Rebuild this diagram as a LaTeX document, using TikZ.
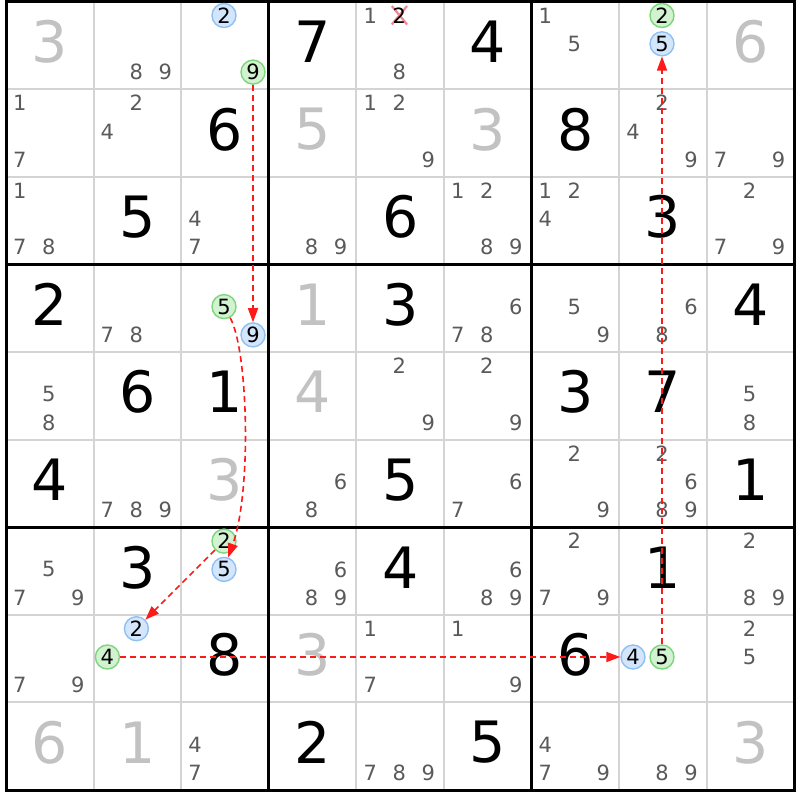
\documentclass[tikz,border=0pt]{standalone}
\usepackage{fontspec}
\setmainfont{DejaVu Sans}
\usetikzlibrary{arrows.meta}
\pgfdeclarelayer{bg}
\pgfdeclarelayer{mid}
\pgfsetlayers{bg,mid,main}
\definecolor{candgray}{HTML}{5A5A5A}
\definecolor{givengray}{HTML}{C2C2C2}
\definecolor{thingray}{HTML}{D4D4D4}
\definecolor{bluefill}{HTML}{D4E6FC}
\definecolor{blueline}{HTML}{8EC0F4}
\definecolor{greenfill}{HTML}{D2F2D2}
\definecolor{greenline}{HTML}{7CD67C}
\definecolor{linkred}{HTML}{FF1A1A}
\definecolor{xpink}{HTML}{F08894}
\tikzset{
  bigdigit/.style={inner sep=0pt, font=\fontsize{57}{57}\selectfont},
  cand/.style={inner sep=0pt, text=candgray, font=\fontsize{21}{21}\selectfont},
  bluec/.style={circle, inner sep=0pt, minimum size=24pt, draw=blueline, fill=bluefill, line width=1.4pt, text=black, font=\fontsize{21}{21}\selectfont},
  greenc/.style={circle, inner sep=0pt, minimum size=24pt, draw=greenline, fill=greenfill, line width=1.4pt, text=black, font=\fontsize{21}{21}\selectfont},
  elim/.style={inner sep=0pt, text=black, font=\fontsize{21}{21}\selectfont},
  link/.style={draw=linkred, line width=1.6pt, dash pattern=on 6pt off 4pt, -{Triangle[length=14pt,width=10pt]}},
  thinline/.style={draw=thingray, line width=2pt},
  thickline/.style={draw=black, line width=3pt}
}
% big digit: row, col, digit, colour
\newcommand\bigd[4]{\node[bigdigit, text=#4] (d#1#2) at ({6+(#2-0.5)*87.6},{1.5+(#1-0.5)*87.6-3.5}) {#3};}
% candidates: row, col, list
\newcommand\cands[3]{\foreach \k in {#3}{%
  \pgfmathtruncatemacro\kr{(\k-1)/3}\pgfmathtruncatemacro\kc{\k-1-3*\kr}%
  \node[cand] (c#1#2\k) at ({6+(#2-0.5)*87.6+(\kc-1)*29-1},{1.5+(#1-0.5)*87.6+(\kr-1)*28.3-1.5}) {\k};}}
% special candidate: row, col, digit, style
\newcommand\scand[4]{%
  \pgfmathtruncatemacro\kr{(#3-1)/3}\pgfmathtruncatemacro\kc{#3-1-3*\kr}%
  \node[#4] (c#1#2#3) at ({6+(#2-0.5)*87.6+(\kc-1)*29-1},{1.5+(#1-0.5)*87.6+(\kr-1)*28.3-1.5}) {#3};}
\begin{document}
\begin{tikzpicture}[x=1pt, y=-1pt]
\useasboundingbox (0,0) rectangle (800,800);
\begin{pgfonlayer}{bg}
\fill[white] (0,0) rectangle (800,800);
\end{pgfonlayer}
% grid
\foreach \i in {1,2,4,5,7,8}{
  \draw[thinline] ({6+\i*87.6},1.5) -- ({6+\i*87.6},790.2);
  \draw[thinline] (6,{1.5+\i*87.6}) -- (794.4,{1.5+\i*87.6});
}
\foreach \i in {3,6}{
  \draw[thickline] ({6+\i*87.6},1.5) -- ({6+\i*87.6},790.2);
  \draw[thickline] (6,{1.5+\i*87.6}) -- (794.4,{1.5+\i*87.6});
}
\draw[thickline] (6,1.5) rectangle (794.4,790.2);
% big digits
\bigd{1}{1}{3}{givengray}\bigd{1}{4}{7}{black}\bigd{1}{6}{4}{black}\bigd{1}{9}{6}{givengray}
\bigd{2}{3}{6}{black}\bigd{2}{4}{5}{givengray}\bigd{2}{6}{3}{givengray}\bigd{2}{7}{8}{black}
\bigd{3}{2}{5}{black}\bigd{3}{5}{6}{black}\bigd{3}{8}{3}{black}
\bigd{4}{1}{2}{black}\bigd{4}{4}{1}{givengray}\bigd{4}{5}{3}{black}\bigd{4}{9}{4}{black}
\bigd{5}{2}{6}{black}\bigd{5}{3}{1}{black}\bigd{5}{4}{4}{givengray}\bigd{5}{7}{3}{black}\bigd{5}{8}{7}{black}
\bigd{6}{1}{4}{black}\bigd{6}{3}{3}{givengray}\bigd{6}{5}{5}{black}\bigd{6}{9}{1}{black}
\bigd{7}{2}{3}{black}\bigd{7}{5}{4}{black}\bigd{7}{8}{1}{black}
\bigd{8}{3}{8}{black}\bigd{8}{4}{3}{givengray}\bigd{8}{7}{6}{black}
\bigd{9}{1}{6}{givengray}\bigd{9}{2}{1}{givengray}\bigd{9}{4}{2}{black}\bigd{9}{6}{5}{black}\bigd{9}{9}{3}{givengray}
% candidates
\cands{1}{2}{8,9}\cands{1}{5}{1,8}\cands{1}{7}{1,5}
\cands{2}{1}{1,7}\cands{2}{2}{2,4}\cands{2}{5}{1,2,9}\cands{2}{8}{2,4,9}\cands{2}{9}{7,9}
\cands{3}{1}{1,7,8}\cands{3}{3}{4,7}\cands{3}{4}{8,9}\cands{3}{6}{1,2,8,9}\cands{3}{7}{1,2,4}\cands{3}{9}{2,7,9}
\cands{4}{2}{7,8}\cands{4}{6}{6,7,8}\cands{4}{7}{5,9}\cands{4}{8}{6,8}
\cands{5}{1}{5,8}\cands{5}{5}{2,9}\cands{5}{6}{2,9}\cands{5}{9}{5,8}
\cands{6}{2}{7,8,9}\cands{6}{4}{6,8}\cands{6}{6}{6,7}\cands{6}{7}{2,9}\cands{6}{8}{2,6,8,9}
\cands{7}{1}{5,7,9}\cands{7}{4}{6,8,9}\cands{7}{6}{6,8,9}\cands{7}{7}{2,7,9}\cands{7}{9}{2,8,9}
\cands{8}{1}{7,9}\cands{8}{5}{1,7}\cands{8}{6}{1,9}\cands{8}{9}{2,5}
\cands{9}{3}{4,7}\cands{9}{5}{7,8,9}\cands{9}{7}{4,7,9}\cands{9}{8}{8,9}
% highlighted candidates
\scand{1}{3}{2}{bluec}\scand{1}{3}{9}{greenc}
\scand{1}{8}{2}{greenc}\scand{1}{8}{5}{bluec}
\scand{4}{3}{5}{greenc}\scand{4}{3}{9}{bluec}
\scand{7}{3}{2}{greenc}\scand{7}{3}{5}{bluec}
\scand{8}{2}{2}{bluec}\scand{8}{2}{4}{greenc}
\scand{8}{8}{4}{bluec}\scand{8}{8}{5}{greenc}
% eliminated candidate
\scand{1}{5}{2}{elim}
\begin{pgfonlayer}{mid}
\draw[xpink, line width=2.2pt] ([shift={(-0.5,-1.5)}]c152.north west) -- ([shift={(1,1)}]c152.south east);
\draw[xpink, line width=2.2pt] ([shift={(1,-1.5)}]c152.north east) -- ([shift={(-0.5,1)}]c152.south west);
\end{pgfonlayer}
% chain links
\draw[link] (c139) -- (c439);
\draw[link] (c435) .. controls (248,350) and (252,490) .. (c735);
\draw[link] (c732) -- (c822);
\draw[link] (c824) -- (c884);
\draw[link] (c885) -- (c185);
\end{tikzpicture}
\end{document}
